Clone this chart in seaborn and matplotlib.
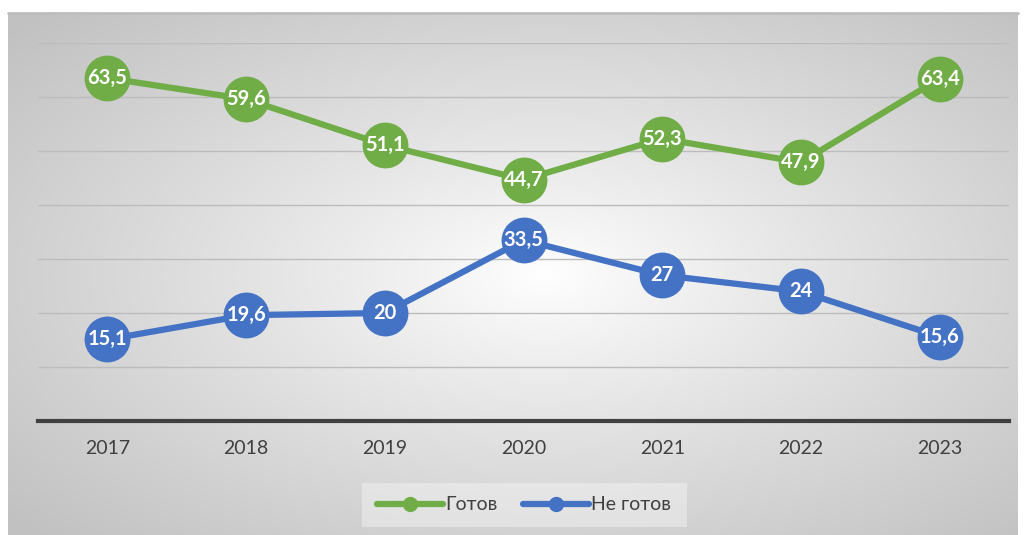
import numpy as np
import pandas as pd
import matplotlib.pyplot as plt
import seaborn as sns

years = ["2017", "2018", "2019", "2020", "2021", "2022", "2023"]
ready = [63.5, 59.6, 51.1, 44.7, 52.3, 47.9, 63.4]
not_ready = [15.1, 19.6, 20, 33.5, 27, 24, 15.6]
series_names = ["Готов", "Не готов"]
colors = ["#70AD47", "#4472C4"]

df = pd.DataFrame({
    "year": years * 2,
    "value": ready + not_ready,
    "series": [series_names[0]] * len(years) + [series_names[1]] * len(years),
})

sns.set_theme(style="white")
plt.rcParams['font.family'] = ['Lato', 'Open Sans', 'DejaVu Sans']

W, H = 1024, 535
fig = plt.figure(figsize=(W / 100, H / 100), dpi=100)
fig.patch.set_facecolor("white")

# radial gradient background frame
bg = fig.add_axes([8 / W, 0, (1018 - 8) / W, (H - 13) / H])
yy, xx = np.mgrid[0:300, 0:600]
cx, cy = 0.53 * 600, 0.50 * 300
r = np.sqrt(((xx - cx) / 600) ** 2 + ((yy - cy) / 300) ** 2)
r = np.clip(r / 0.70, 0, 1)
shade = 1.0 - 0.24 * r ** 0.9
bg.imshow(np.dstack([shade, shade, shade]), aspect="auto", extent=[0, 1, 0, 1], zorder=0)
bg.set_xlim(0, 1)
bg.set_ylim(0, 1)
bg.axis("off")
bg.plot([0, 1], [1, 1], color="#bdbdbd", lw=2, transform=bg.transAxes, clip_on=False)

ax = fig.add_axes([38 / W, 1 - 421 / H, (1009 - 38) / W, (421 - 43) / H])
ax.patch.set_alpha(0)

sns.lineplot(data=df, x="year", y="value", hue="series", palette=colors,
             marker="o", markersize=33, markeredgewidth=0, linewidth=4.5,
             ax=ax, legend=False, zorder=3)

ax.set_xlim(-0.5, len(years) - 0.5)
ax.set_ylim(0, 70)
ax.set_yticks(np.arange(10, 71, 10))
ax.set_yticklabels([])
ax.tick_params(axis="y", length=0)
ax.tick_params(axis="x", length=0, pad=14, labelsize=14, labelcolor="#404040")
ax.grid(axis="y", color="#bcbcbc", linewidth=1)
ax.set_axisbelow(True)
for s in ["top", "left", "right"]:
    ax.spines[s].set_visible(False)
ax.spines["bottom"].set_color("#404040")
ax.spines["bottom"].set_linewidth(3)
ax.set_xlabel("")
ax.set_ylabel("")

for vals in [ready, not_ready]:
    for i, v in enumerate(vals):
        txt = f"{v:g}".replace(".", ",")
        ax.text(i, v, txt, ha="center", va="center", color="white",
                fontsize=14.5, fontweight="bold", zorder=5)

# legend
lg_ax = fig.add_axes([362 / W, 1 - 527 / H, (687 - 362) / W, 44 / H])
lg_ax.set_facecolor("white")
lg_ax.patch.set_alpha(0.35)
lg_ax.set_xticks([])
lg_ax.set_yticks([])
for s in lg_ax.spines.values():
    s.set_visible(False)
handles = [plt.Line2D([], [], color=c, lw=4.5, marker="o", markersize=10) for c in colors]
fig.legend(handles, series_names, loc="center", bbox_to_anchor=(524 / W, 1 - 505 / H),
           ncol=2, frameon=False, fontsize=14, handlelength=3.4, handletextpad=0.1,
           columnspacing=1.3, labelcolor="#404040")

fig.savefig("out.png", dpi=100)
